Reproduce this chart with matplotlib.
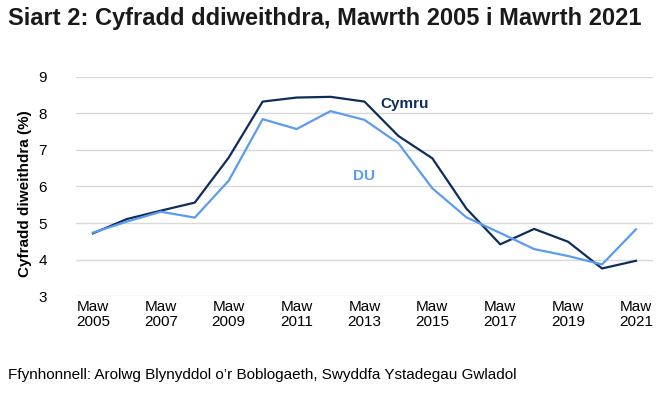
import matplotlib.pyplot as plt

plt.rcParams['font.family'] = ['Liberation Sans', 'DejaVu Sans']

years = list(range(2005, 2022))
tick_labels = ['Maw\n2005', 'Maw\n2007', 'Maw\n2009', 'Maw\n2011', 'Maw\n2013',
               'Maw\n2015', 'Maw\n2017', 'Maw\n2019', 'Maw\n2021']
cymru = [4.72, 5.11, 5.34, 5.56, 6.79, 8.32, 8.43, 8.45, 8.32, 7.38, 6.77,
         5.40, 4.42, 4.84, 4.49, 3.76, 3.97]
du = [4.74, 5.04, 5.31, 5.15, 6.16, 7.84, 7.57, 8.06, 7.82, 7.18, 5.95,
      5.16, 4.73, 4.29, 4.10, 3.87, 4.83]

navy = '#0f2d5c'
light = '#5c9cf0'

fig = plt.figure(figsize=(6.69, 3.97), dpi=100)
ax = fig.add_axes([0.1136, 0.2537, 0.8624, 0.5531])

x = list(range(len(years)))
ax.plot(x, cymru, color=navy, lw=1.6)
ax.plot(x, du, color=light, lw=1.6)

ax.text(9.19, 8.25, 'Cymru', color=navy, fontsize=11, fontweight='bold',
        ha='center', va='center')
ax.text(8.0, 6.29, 'DU', color=light, fontsize=11, fontweight='bold',
        ha='center', va='center')

ax.set_xlim(-0.5, 16.5)
ax.set_ylim(3, 9)
ax.set_yticks(range(3, 10))
ax.set_xticks(x[::2])
ax.set_xticklabels(tick_labels, linespacing=1.05)
ax.tick_params(length=0, labelsize=11, colors='black')
ax.tick_params(axis='y', pad=21)
ax.tick_params(axis='x', pad=3)
ax.grid(axis='y', color='#d9d9d9', lw=1)
ax.set_axisbelow(True)
for s in ax.spines.values():
    s.set_visible(False)

ax.set_ylabel('Cyfradd diweithdra (%)', fontsize=11, fontweight='bold')
ax.yaxis.set_label_coords(-0.076, 0.466)

fig.text(0.012, 0.953, 'Siart 2: Cyfradd ddiweithdra, Mawrth 2005 i Mawrth 2021',
         fontsize=17, fontweight='bold', color='#1a1a1a', va='center')
fig.text(0.012, 0.055, 'Ffynhonnell: Arolwg Blynyddol o\u2019r Boblogaeth, Swyddfa Ystadegau Gwladol',
         fontsize=11, va='center')

fig.savefig('out.png', dpi=100)
